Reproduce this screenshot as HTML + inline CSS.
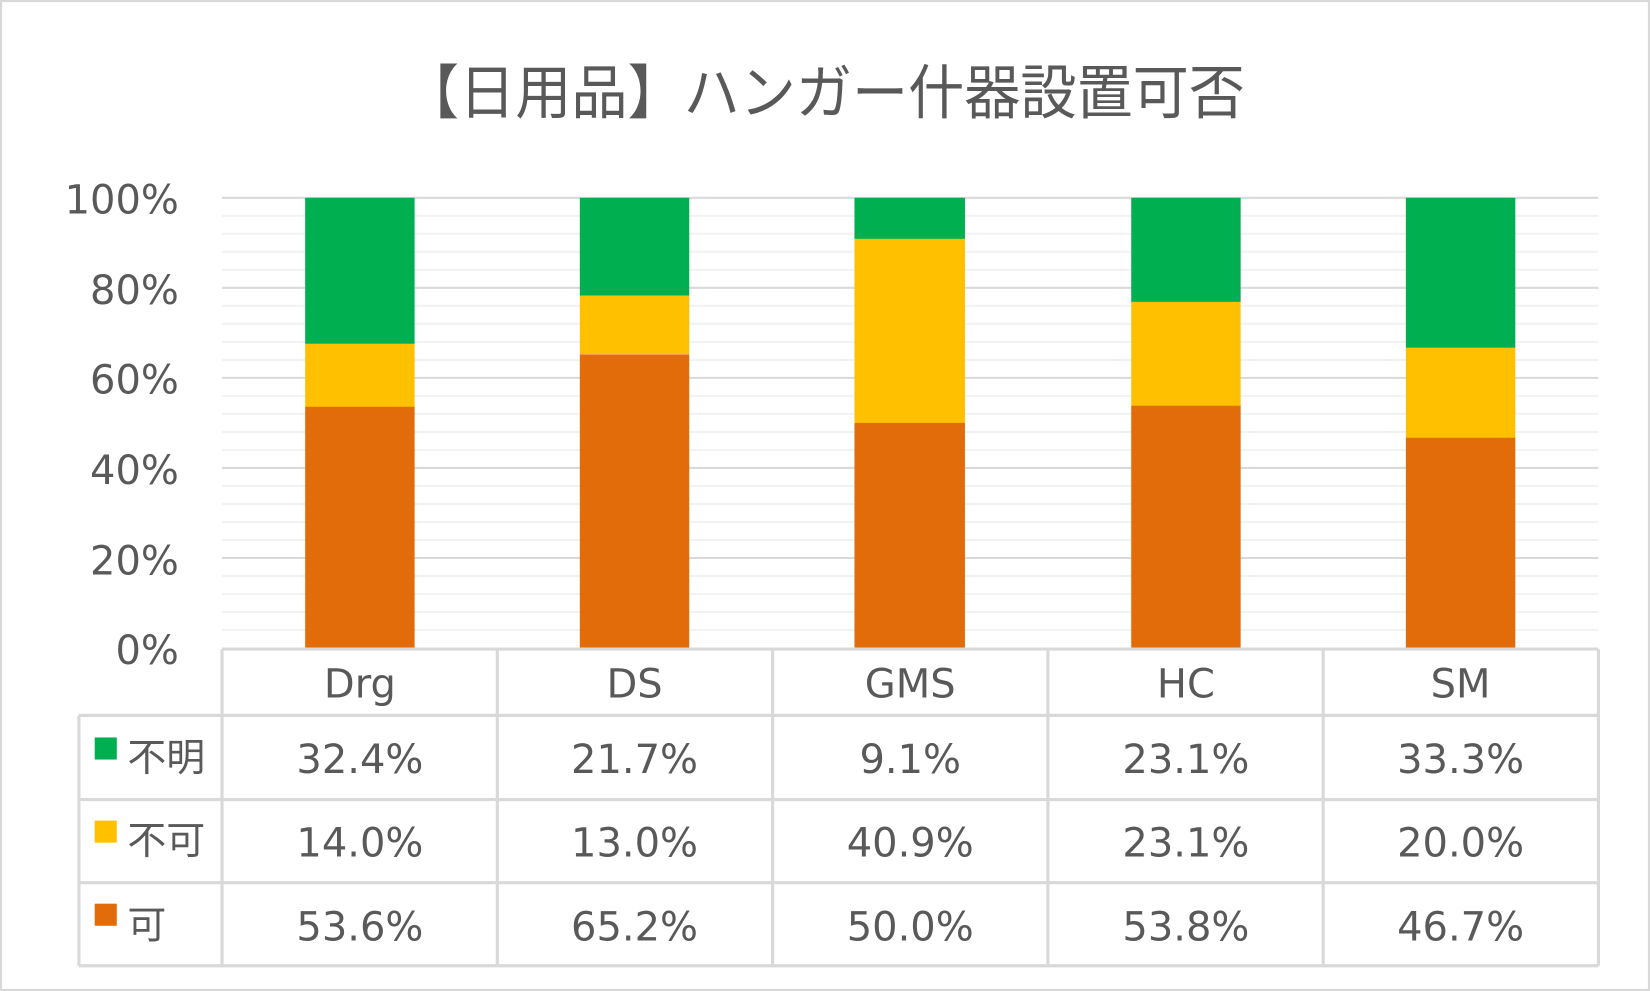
<!DOCTYPE html>
<html><head><meta charset="utf-8"><style>
html,body{margin:0;padding:0;background:#fff;}
svg{display:block;}
text{font-family:"DejaVu Sans","Noto Sans CJK JP",sans-serif;fill:#595959;}
.t{font-family:"Liberation Sans","Noto Sans CJK JP",sans-serif;}
</style></head><body>
<svg width="1650" height="991" viewBox="0 0 1568 942" preserveAspectRatio="none" xmlns="http://www.w3.org/2000/svg">
<rect x="1" y="1" width="1566" height="940" fill="#fff" stroke="#d9d9d9" stroke-width="2"/>
<text class="t" x="783" y="108" font-size="56" text-anchor="middle" textLength="800" lengthAdjust="spacingAndGlyphs">【日用品】ハンガー什器設置可否</text>
<g stroke="#f2f2f2" stroke-width="2">
<line x1="211" x2="1519" y1="205.1" y2="205.1"/>
<line x1="211" x2="1519" y1="222.2" y2="222.2"/><line x1="211" x2="1519" y1="239.4" y2="239.4"/><line x1="211" x2="1519" y1="256.5" y2="256.5"/>
<line x1="211" x2="1519" y1="290.7" y2="290.7"/><line x1="211" x2="1519" y1="307.8" y2="307.8"/><line x1="211" x2="1519" y1="325" y2="325"/><line x1="211" x2="1519" y1="342.1" y2="342.1"/>
<line x1="211" x2="1519" y1="376.3" y2="376.3"/><line x1="211" x2="1519" y1="393.4" y2="393.4"/><line x1="211" x2="1519" y1="410.6" y2="410.6"/><line x1="211" x2="1519" y1="427.7" y2="427.7"/>
<line x1="211" x2="1519" y1="461.9" y2="461.9"/><line x1="211" x2="1519" y1="479" y2="479"/><line x1="211" x2="1519" y1="496.2" y2="496.2"/><line x1="211" x2="1519" y1="513.3" y2="513.3"/>
<line x1="211" x2="1519" y1="547.5" y2="547.5"/><line x1="211" x2="1519" y1="564.6" y2="564.6"/><line x1="211" x2="1519" y1="581.8" y2="581.8"/><line x1="211" x2="1519" y1="598.9" y2="598.9"/>
</g>
<g stroke="#d9d9d9" stroke-width="2">
<line x1="211" x2="1519" y1="188" y2="188"/><line x1="211" x2="1519" y1="273.6" y2="273.6"/><line x1="211" x2="1519" y1="359.2" y2="359.2"/><line x1="211" x2="1519" y1="444.8" y2="444.8"/><line x1="211" x2="1519" y1="530.4" y2="530.4"/>
</g>
<g font-size="38" text-anchor="end">
<text x="170" y="203">100%</text><text x="170" y="289">80%</text><text x="170" y="374">60%</text><text x="170" y="460">40%</text><text x="170" y="546">20%</text><text x="170" y="631">0%</text>
</g>
<g>
<rect x="290" y="188" width="104" height="139" fill="#00b050"/><rect x="290" y="326.7" width="104" height="60.1" fill="#ffc000"/><rect x="290" y="386.6" width="104" height="229.4" fill="#e36c0a"/>
<rect x="551" y="188" width="104" height="93" fill="#00b050"/><rect x="551" y="280.9" width="104" height="55.8" fill="#ffc000"/><rect x="551" y="336.9" width="104" height="279.1" fill="#e36c0a"/>
<rect x="812" y="188" width="105" height="39.2" fill="#00b050"/><rect x="812" y="227" width="105" height="175.3" fill="#ffc000"/><rect x="812" y="402" width="105" height="214" fill="#e36c0a"/>
<rect x="1075" y="188" width="104" height="99.1" fill="#00b050"/><rect x="1075" y="286.9" width="104" height="99.1" fill="#ffc000"/><rect x="1075" y="385.7" width="104" height="230.3" fill="#e36c0a"/>
<rect x="1336" y="188" width="104" height="142.7" fill="#00b050"/><rect x="1336" y="330.5" width="104" height="85.8" fill="#ffc000"/><rect x="1336" y="416.1" width="104" height="199.9" fill="#e36c0a"/>
</g>
<g stroke="#d9d9d9" stroke-width="3" fill="none">
<line x1="211" x2="1519" y1="617" y2="617"/>
<line x1="75" x2="1519" y1="680" y2="680"/>
<line x1="75" x2="1519" y1="760" y2="760"/>
<line x1="75" x2="1519" y1="839" y2="839"/>
<line x1="75" x2="1519" y1="918" y2="918"/>
<line x1="75" x2="75" y1="680" y2="918"/>
<line x1="211" x2="211" y1="617" y2="918"/>
<line x1="472.6" x2="472.6" y1="617" y2="918"/>
<line x1="734.2" x2="734.2" y1="617" y2="918"/>
<line x1="995.8" x2="995.8" y1="617" y2="918"/>
<line x1="1257.4" x2="1257.4" y1="617" y2="918"/>
<line x1="1519" x2="1519" y1="617" y2="918"/>
</g>
<g font-size="38" text-anchor="middle">
<text x="342" y="663">Drg</text><text x="603" y="663">DS</text><text x="865" y="663">GMS</text><text x="1127" y="663">HC</text><text x="1388" y="663">SM</text>
<text x="342" y="735">32.4%</text><text x="603" y="735">21.7%</text><text x="865" y="735">9.1%</text><text x="1127" y="735">23.1%</text><text x="1388" y="735">33.3%</text>
<text x="342" y="814">14.0%</text><text x="603" y="814">13.0%</text><text x="865" y="814">40.9%</text><text x="1127" y="814">23.1%</text><text x="1388" y="814">20.0%</text>
<text x="342" y="894">53.6%</text><text x="603" y="894">65.2%</text><text x="865" y="894">50.0%</text><text x="1127" y="894">53.8%</text><text x="1388" y="894">46.7%</text>
</g>
<rect x="90" y="701" width="21" height="21" fill="#00b050"/>
<rect x="90" y="780" width="21" height="21" fill="#ffc000"/>
<rect x="90" y="859" width="21" height="21" fill="#e36c0a"/>
<g font-size="37">
<text class="t" x="121" y="733">不明</text><text class="t" x="121" y="812">不可</text><text class="t" x="121" y="892">可</text>
</g>
</svg>
</body></html>
